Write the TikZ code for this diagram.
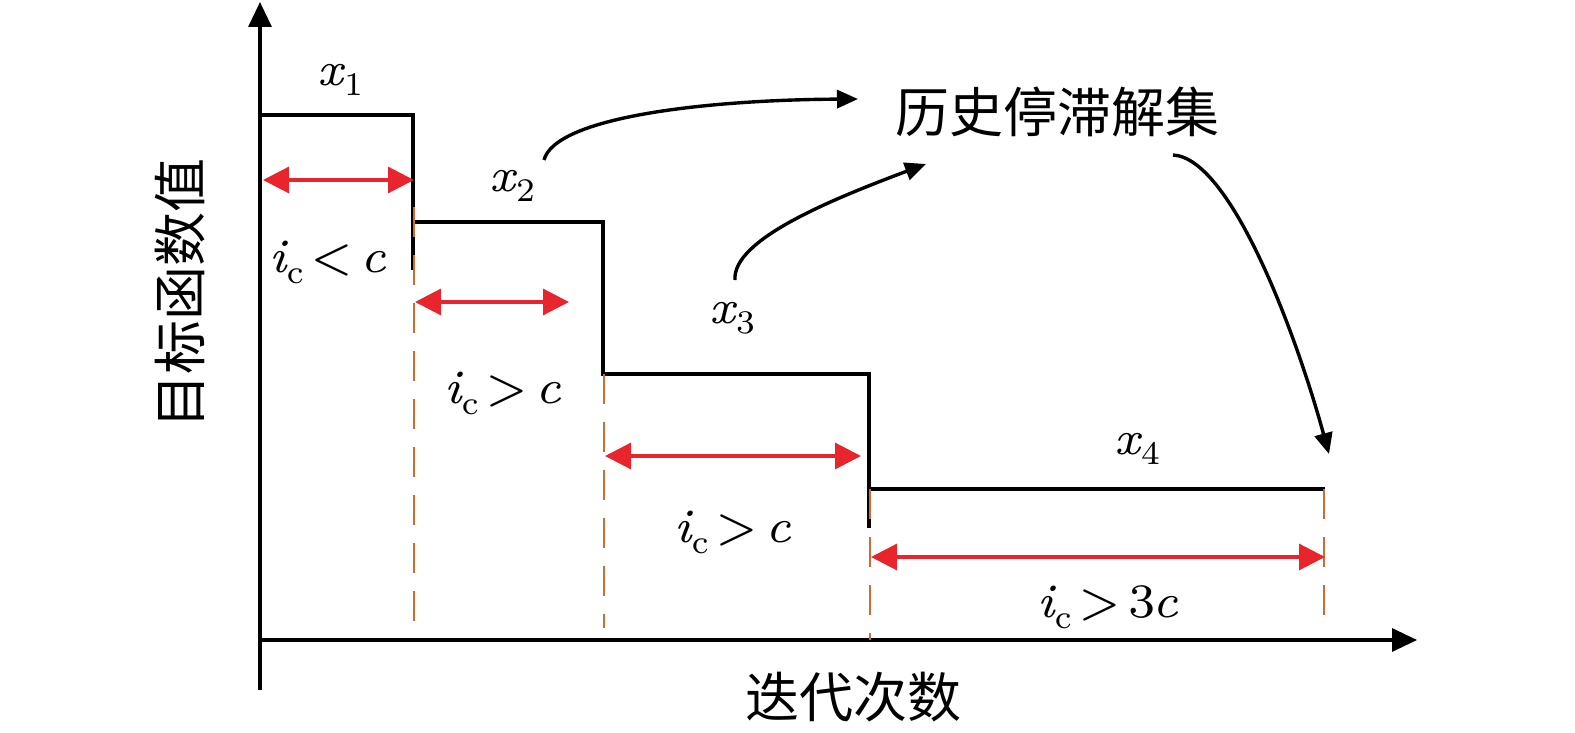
\documentclass[tikz,border=0pt]{standalone}
\usepackage{fontspec}
\newfontfamily\lat{lmroman7-regular.otf}[ItalicFont=lmroman7-italic.otf]
\newfontfamily\cjk{Noto Sans CJK SC}
\usetikzlibrary{arrows.meta}
\definecolor{myred}{RGB}{232,36,44}
\definecolor{myorange}{RGB}{212,106,48}
\tikzset{
  axis/.style={line width=3.4pt,-{Triangle[length=25pt,width=23pt]}},
  stepline/.style={line width=3.2pt},
  gap/.style={line width=3.2pt,myred,{Triangle[length=26pt,width=26pt]}-{Triangle[length=26pt,width=26pt]}},
  guide/.style={line width=2.8pt,myorange,dash pattern=on 30pt off 18pt},
  curvearrow/.style={line width=3.4pt,-{Triangle[length=21pt,width=18pt]}},
  lbl/.style={font=\lat\fontsize{48}{52}\selectfont,inner sep=0pt},
  cjklbl/.style={font=\cjk\fontsize{54}{60}\selectfont,inner sep=0pt}
}
\newcommand{\xs}[1]{{\itshape x}\kern1pt\raisebox{-10pt}{\fontsize{33}{35}\selectfont #1}}
\newcommand{\icc}{{\itshape i}\kern0pt\raisebox{-11pt}{\fontsize{33}{35}\selectfont c}}
\newcommand{\rel}[1]{\kern7pt#1\kern7pt}
\begin{document}
\begin{tikzpicture}[x=1pt,y=-1pt]
\useasboundingbox (0,0) rectangle (1575,733);
% axes
\coordinate (ybot) at (260,690);
\coordinate (ytop) at (260,2);
\coordinate (xleft) at (260,640);
\coordinate (xright) at (1417,640);
\draw[axis] (ybot) -- (ytop);
\draw[axis] (xleft) -- (xright);
% step function
\coordinate (s0) at (260,115);
\coordinate (s1) at (413,115);
\coordinate (s2) at (413,222);
\coordinate (s3) at (603,222);
\coordinate (s4) at (603,374);
\coordinate (s5) at (869,374);
\coordinate (s6) at (869,489);
\coordinate (s7) at (1325,489);
\coordinate (e1) at (413,270);
\coordinate (e2) at (869,528);
\draw[stepline] (s0) -- (s1) -- (e1);
\draw[stepline] (s2) -- (s3) -- (s4) -- (s5) -- (e2);
\draw[stepline] (s6) -- (s7);
% dashed guides
\coordinate (d1a) at (414,207); \coordinate (d1b) at (414,626);
\coordinate (d2a) at (604,374); \coordinate (d2b) at (604,628);
\coordinate (d3a) at (870,489); \coordinate (d3b) at (870,640);
\coordinate (d4a) at (1324,489); \coordinate (d4b) at (1324,616);
\draw[guide] (d1a) -- (d1b);
\draw[guide] (d2a) -- (d2b);
\draw[guide] (d3a) -- (d3b);
\draw[guide] (d4a) -- (d4b);
% red arrows
\coordinate (r1a) at (263,180); \coordinate (r1b) at (414,180);
\coordinate (r2a) at (415,302); \coordinate (r2b) at (569,302);
\coordinate (r3a) at (605,456); \coordinate (r3b) at (861,456);
\coordinate (r4a) at (871,557); \coordinate (r4b) at (1325,557);
\draw[gap] (r1a) -- (r1b);
\draw[gap] (r2a) -- (r2b);
\draw[gap] (r3a) -- (r3b);
\draw[gap] (r4a) -- (r4b);
% labels
\node[lbl] (x1) at (340,80) {\xs{1}};
\node[lbl] (x2) at (512,186) {\xs{2}};
\node[lbl] (x3) at (732,318) {\xs{3}};
\node[lbl] (x4) at (1137,449) {\xs{4}};
\node[lbl] (c1) at (328,262) {\icc\rel{<}{\itshape c}};
\node[lbl] (c2) at (503,393) {\icc\rel{>}{\itshape c}};
\node[lbl] (c3) at (733,532) {\icc\rel{>}{\itshape c}};
\node[lbl] (c4) at (1108,607) {\icc\rel{>}3\kern-3pt{\itshape c}};
\node[cjklbl] (hist) at (1057,112) {历史停滞解集};
\node[cjklbl] (xlab) at (853,697) {迭代次数};
\node[cjklbl,rotate=90] (ylab) at (180,293) {目标函数值};
% curved arrows
\coordinate (a1s) at (544,160); \coordinate (a1e) at (858,99);
\coordinate (a2s) at (735,280); \coordinate (a2e) at (926,164);
\coordinate (a3s) at (1173,155); \coordinate (a3e) at (1329,454);
\draw[curvearrow] (a1s) .. controls (555,118) and (700,100) .. (a1e);
\draw[curvearrow] (a2s) .. controls (732,240) and (830,200) .. (a2e);
\draw[curvearrow] (a3s) .. controls (1230,158) and (1295,330) .. (a3e);
\end{tikzpicture}
\end{document}
